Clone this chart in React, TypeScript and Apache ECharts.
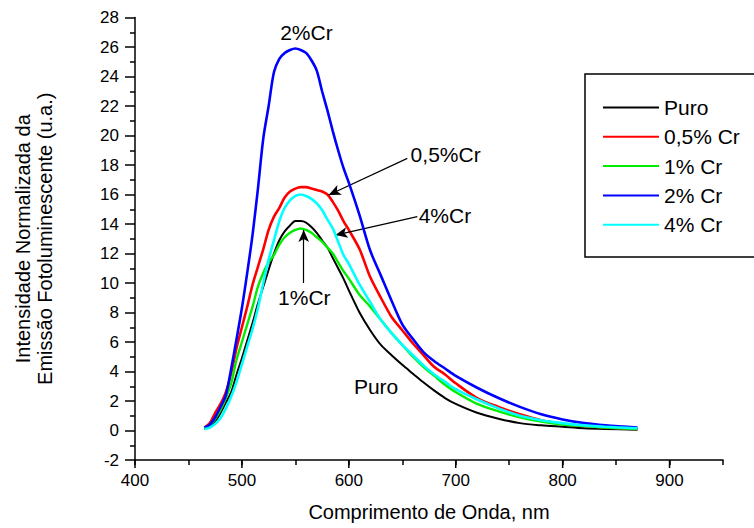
import React, { useEffect, useRef } from "react";
import * as echarts from "echarts";

// Wavelength (nm) sample positions
const wavelengths = [465, 470, 475, 480, 485, 490, 495, 500, 505, 510, 515, 520, 525, 530, 535, 540, 545, 550, 555, 560, 565, 570, 575, 580, 585, 590, 595, 600, 610, 620, 630, 640, 650, 660, 670, 680, 690, 700, 720, 740, 760, 780, 800, 820, 840, 870];

const puro = [0.1, 0.25, 0.6, 1.2, 1.9, 2.6, 3.8, 4.9, 6.1, 7.3, 8.6, 9.75, 10.9, 12.0, 12.9, 13.5, 13.9, 14.2, 14.2, 14.1, 13.8, 13.4, 12.9, 12.4, 11.7, 11.0, 10.3, 9.5, 8.0, 6.8, 5.8, 5.1, 4.45, 3.85, 3.25, 2.7, 2.2, 1.8, 1.2, 0.8, 0.5, 0.35, 0.25, 0.15, 0.1, 0.05];
const cr05 = [0.2, 0.5, 1.2, 1.8, 2.6, 3.9, 5.6, 7.0, 8.4, 9.9, 11.1, 12.3, 13.6, 14.5, 15.1, 15.8, 16.2, 16.4, 16.5, 16.5, 16.4, 16.3, 16.2, 16.0, 15.5, 14.9, 14.2, 13.6, 12.3, 10.4, 9.0, 7.7, 6.8, 5.9, 5.1, 4.3, 3.8, 3.2, 2.2, 1.6, 1.1, 0.7, 0.45, 0.3, 0.2, 0.1];
const cr1 = [0.15, 0.35, 0.8, 1.4, 2.2, 3.2, 4.8, 6.0, 7.2, 8.4, 9.75, 10.7, 11.4, 11.9, 12.6, 13.1, 13.4, 13.6, 13.7, 13.6, 13.4, 13.1, 12.8, 12.4, 12.0, 11.4, 10.8, 10.3, 9.2, 8.4, 7.5, 6.6, 5.8, 5.0, 4.3, 3.7, 3.1, 2.6, 1.8, 1.3, 0.9, 0.6, 0.4, 0.3, 0.2, 0.1];
const cr2 = [0.2, 0.4, 0.9, 1.6, 2.4, 4.2, 6.2, 8.3, 10.7, 13.3, 16.4, 19.8, 22.0, 24.3, 25.2, 25.6, 25.8, 25.9, 25.8, 25.6, 25.1, 24.4, 23.0, 21.7, 20.3, 19.0, 17.8, 16.8, 14.6, 12.2, 10.5, 8.8, 7.2, 6.2, 5.3, 4.7, 4.2, 3.7, 2.9, 2.2, 1.6, 1.1, 0.75, 0.5, 0.35, 0.2];
const cr4 = [0.1, 0.2, 0.45, 0.85, 1.5, 2.3, 3.3, 4.5, 5.7, 6.9, 8.3, 10.0, 11.6, 12.9, 14.2, 15.1, 15.6, 15.9, 16.0, 15.9, 15.7, 15.4, 14.95, 14.3, 13.7, 12.8, 11.9, 11.3, 9.9, 8.7, 7.5, 6.6, 5.8, 5.1, 4.4, 3.8, 3.3, 2.8, 2.1, 1.5, 1.0, 0.7, 0.5, 0.35, 0.25, 0.15];

const seriesNames = ["Puro", "0,5% Cr", "1% Cr", "2% Cr", "4% Cr"];
const seriesColors = ["#000000", "#ff0000", "#00ee00", "#0000ff", "#00ffff"];
const seriesWidths = [2, 2.6, 2.4, 2.6, 2.6];

const xMajorTicks = [400, 500, 600, 700, 800, 900];

// Annotation labels [wavelength, intensity, text, align]
const annotationLabels: [number, number, string, string][] = [
  [560.3, 26.95, "2%Cr", "center"],
  [657.8, 18.7, "0,5%Cr", "left"],
  [665.3, 14.55, "4%Cr", "left"],
  [558.4, 9.05, "1%Cr", "center"],
  [625.5, 2.95, "Puro", "center"],
];
// Arrows [fromX, fromY, toX, toY]
const annotationArrows = [
  [654.7, 18.45, 581.2, 15.97],
  [664.1, 14.5, 587.5, 13.25],
  [557.8, 10.0, 557.8, 13.6],
];

export default function App() {
  const ref = useRef<HTMLDivElement>(null);
  useEffect(() => {
    const chart = echarts.init(ref.current!, null, { renderer: "svg" });
    const font = "'Liberation Sans', Arial, sans-serif";
    const dataSets = [puro, cr05, cr1, cr2, cr4];
    const axisLineStyle = { color: "#000", width: 1.5 };

    const series: any[] = dataSets.map((vals, si) => ({
      name: seriesNames[si],
      type: "line",
      symbol: "none",
      smooth: 0.3,
      color: seriesColors[si],
      lineStyle: { color: seriesColors[si], width: seriesWidths[si] },
      data: wavelengths.map((w, i) => [w, vals[i]]),
      z: 2 + si,
    }));

    // major x ticks (drawn through the axis scale)
    series.push({
      name: "xMajorTicks",
      type: "custom",
      silent: true,
      clip: false,
      z: 20,
      data: xMajorTicks.map((v) => [v, -2]),
      renderItem: (_params: any, api: any) => {
        const p = api.coord([api.value(0), api.value(1)]);
        return {
          type: "line",
          shape: { x1: p[0], y1: p[1], x2: p[0], y2: p[1] + 8 },
          style: { stroke: "#000", lineWidth: 1.5 },
        };
      },
    });

    series.push({
      name: "annotations",
      type: "line",
      data: [],
      silent: true,
      z: 10,
      markLine: {
        silent: true,
        symbol: ["none", "arrow"],
        symbolSize: [8, 12],
        lineStyle: { color: "#000", width: 1.2, type: "solid" },
        label: { show: false },
        data: annotationArrows.map((a) => [
          { coord: [a[0], a[1]] },
          { coord: [a[2], a[3]] },
        ]),
      },
      markPoint: {
        silent: true,
        symbol: "circle",
        symbolSize: 0,
        data: annotationLabels.map((l) => ({
          coord: [l[0], l[1]],
          label: {
            show: true,
            formatter: l[2],
            position: l[3] === "left" ? "right" : "inside",
            distance: 0,
            color: "#000",
            fontSize: 21,
            fontFamily: font,
          },
        })),
      },
    });

    chart.setOption({
      animation: false,
      backgroundColor: "#ffffff",
      grid: { left: 135, top: 17.5, width: 588, height: 442.5, containLabel: false },
      legend: {
        data: seriesNames,
        orient: "vertical",
        left: 603,
        top: 97,
        padding: 0,
        icon: "rect",
        itemWidth: 56,
        itemHeight: 2,
        itemGap: 8.3,
        selectedMode: false,
        textStyle: { fontSize: 21, lineHeight: 20, color: "#000", fontFamily: font },
      },
      graphic: [
        {
          type: "rect",
          x: 585,
          y: 74,
          shape: { x: 0, y: 0, width: 260, height: 183 },
          style: { fill: "none", stroke: "#000", lineWidth: 1.5 },
          silent: true,
        },
      ],
      xAxis: {
        type: "value",
        min: 400,
        max: 950,
        interval: 50,
        axisLine: { show: true, onZero: false, lineStyle: axisLineStyle },
        axisTick: { show: true, length: 5, lineStyle: axisLineStyle },
        axisLabel: {
          color: "#000",
          fontSize: 17,
          fontFamily: font,
          margin: 12,
          formatter: (v: number) => (v % 100 === 0 && v <= 900 ? String(v) : ""),
        },
        splitLine: { show: false },
        name: "Comprimento de Onda, nm",
        nameLocation: "middle",
        nameGap: 42,
        nameTextStyle: { fontSize: 20, color: "#000", fontFamily: font },
      },
      yAxis: {
        type: "value",
        min: -2,
        max: 28,
        interval: 2,
        axisLine: { show: true, onZero: false, lineStyle: axisLineStyle },
        axisTick: { show: true, length: 10, lineStyle: axisLineStyle },
        minorTick: { show: true, splitNumber: 2, length: 5, lineStyle: axisLineStyle },
        minorSplitLine: { show: false },
        axisLabel: { color: "#000", fontSize: 17, fontFamily: font, margin: 16 },
        splitLine: { show: false },
        name: "Intensidade Normalizada da\nEmissão Fotoluminescente (u.a.)",
        nameLocation: "middle",
        nameGap: 79,
        nameTextStyle: { fontSize: 20, lineHeight: 22, color: "#000", fontFamily: font },
      },
      series,
    });
    return () => chart.dispose();
  }, []);
  return (
    <div
      ref={ref}
      style={{ position: "fixed", left: 0, top: 0, width: 754, height: 528, background: "#fff" }}
    />
  );
}
